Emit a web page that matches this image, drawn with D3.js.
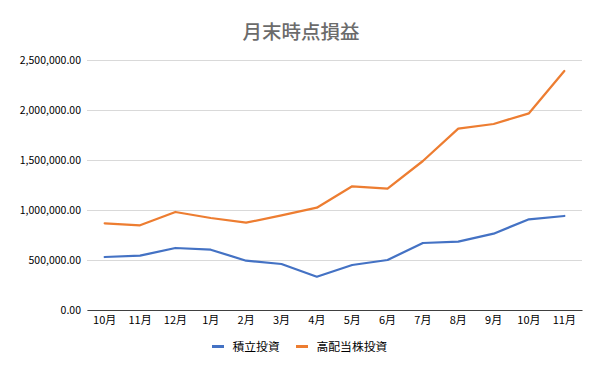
<!DOCTYPE html>
<html>
<head>
<meta charset="utf-8">
<script src="https://cdn.jsdelivr.net/npm/d3@7"></script>
<style>
  body { margin: 0; background: #fff; }
  text { font-family: "Noto Sans CJK JP", "Noto Sans", sans-serif; }
</style>
</head>
<body>
<div id="chart"></div>
<script>

// month labels along the x axis
let months = ['10月', '11月', '12月', '1月', '2月', '3月', '4月', '5月', '6月', '7月', '8月', '9月', '10月', '11月'];

// series values
let tsumitate = [530000, 543000, 620000, 603000, 493000, 460000, 333000, 450000, 500000, 670000, 683000, 763000, 907000, 940000];
let kohaito = [867000, 847000, 980000, 920000, 873000, 947000, 1023000, 1237000, 1213000, 1490000, 1813000, 1860000, 1967000, 2390000];

let seriesNames = ['積立投資', '高配当株投資'];
let colors = ['#4472C4', '#ED7D31'];
let yTicks = [0, 500000, 1000000, 1500000, 2000000, 2500000];

var W = 600, H = 371;
var margin = { top: 60, right: 18, bottom: 61, left: 87 };
var width = W - margin.left - margin.right;
var height = H - margin.top - margin.bottom;

var svg = d3.select('#chart').append('svg')
  .attr('width', W)
  .attr('height', H);

// title
svg.append('text')
  .attr('x', 301)
  .attr('y', 39)
  .attr('text-anchor', 'middle')
  .attr('font-size', 19.5)
  .attr('font-weight', 500)
  .attr('fill', '#6b6b6b')
  .text('月末時点損益');

var g = svg.append('g')
  .attr('transform', 'translate(' + margin.left + ',' + margin.top + ')');

// scales
var x = d3.scaleBand()
  .domain(d3.range(months.length))
  .range([0, width]);

var y = d3.scaleLinear()
  .domain([0, 2500000])
  .range([height, 0]);

// gridlines + y labels
var yAxis = g.append('g')
  .call(d3.axisLeft(y)
    .tickValues(yTicks)
    .tickSize(-width)
    .tickPadding(6)
    .tickFormat(d3.format(',.2f')));
yAxis.select('.domain').remove();
yAxis.selectAll('line').attr('stroke', '#d9d9d9');
yAxis.selectAll('text')
  .attr('font-size', 10.5)
  .attr('fill', '#000')
  .attr('font-family', '"Noto Sans", sans-serif');

// x axis
var xAxis = g.append('g')
  .attr('transform', 'translate(0,' + height + ')')
  .call(d3.axisBottom(x)
    .tickSize(0)
    .tickPadding(6)
    .tickFormat(function (i) { return months[i]; }));
xAxis.select('.domain').attr('stroke', '#404040');
xAxis.selectAll('text')
  .attr('font-size', 11)
  .attr('fill', '#000');

// lines
var line = d3.line()
  .x(function (d, i) { return x(i) + x.bandwidth() / 2; })
  .y(function (d) { return y(d); });

[tsumitate, kohaito].forEach(function (series, k) {
  g.append('path')
    .datum(series)
    .attr('fill', 'none')
    .attr('stroke', colors[k])
    .attr('stroke-width', 2.25)
    .attr('stroke-linejoin', 'round')
    .attr('stroke-linecap', 'round')
    .attr('d', line);
});

// legend
var legendX = [212, 296];
var legend = svg.append('g');
seriesNames.forEach(function (name, k) {
  legend.append('line')
    .attr('x1', legendX[k])
    .attr('x2', legendX[k] + 12)
    .attr('y1', 346.5)
    .attr('y2', 346.5)
    .attr('stroke', colors[k])
    .attr('stroke-width', 3);
  legend.append('text')
    .attr('x', legendX[k] + 20.5)
    .attr('y', 350.5)
    .attr('font-size', 11.8)
    .attr('fill', '#000')
    .text(name);
});

</script>
</body>
</html>
